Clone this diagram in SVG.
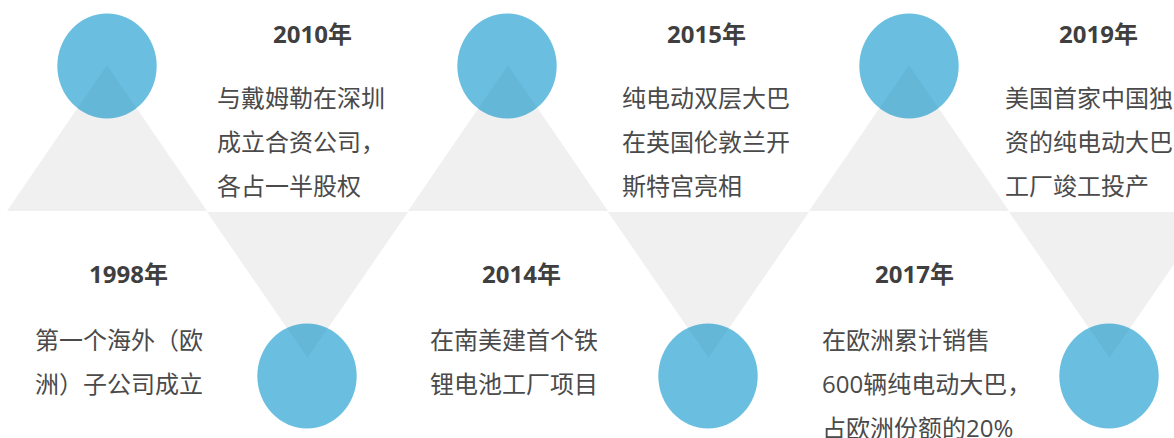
<svg xmlns="http://www.w3.org/2000/svg" width="1174" height="438" viewBox="0 0 1174 438">
  <defs>
    <style>
      .tri { fill: #f0f0f0; }
      .shade { fill: #000000; fill-opacity: 0.04; }
      .dot { fill: #6abfe1; }
      .year { font-family: "Open Sans", "Noto Sans CJK SC", sans-serif; font-weight: bold; font-size: 24px; fill: #3f3f3f; }
      .body { font-family: "Open Sans", "Noto Sans CJK SC", sans-serif; font-size: 24px; fill: #4a4a4a; }
    </style>
    <polygon id="up" points="0,0 100,146 -100,146"/>
    <polygon id="down" points="-100.5,0 100.5,0 0,146"/>
  </defs>
  <rect width="1174" height="438" fill="#ffffff"/>
  <g id="connectors">
    <use href="#up" class="tri" x="107" y="65"/>
    <use href="#up" class="tri" x="508" y="65"/>
    <use href="#up" class="tri" x="909" y="65"/>
    <use href="#down" class="tri" x="307.5" y="212"/>
    <use href="#down" class="tri" x="708.5" y="212"/>
    <use href="#down" class="tri" x="1109.5" y="212"/>
  </g>
  <g id="circles">
    <ellipse class="dot" cx="107" cy="66" rx="49.7" ry="52.5"/>
    <ellipse class="dot" cx="507" cy="66" rx="49.7" ry="52.5"/>
    <ellipse class="dot" cx="909" cy="66" rx="49.7" ry="52.5"/>
    <ellipse class="dot" cx="307" cy="376" rx="49.7" ry="52.5"/>
    <ellipse class="dot" cx="708" cy="376" rx="49.7" ry="52.5"/>
    <ellipse class="dot" cx="1109" cy="376" rx="49.7" ry="52.5"/>
  </g>
  <g id="overlap-shading">
    <clipPath id="c1"><ellipse cx="107" cy="66" rx="49.7" ry="52.5"/></clipPath>
    <clipPath id="c2"><ellipse cx="507" cy="66" rx="49.7" ry="52.5"/></clipPath>
    <clipPath id="c3"><ellipse cx="909" cy="66" rx="49.7" ry="52.5"/></clipPath>
    <clipPath id="c4"><ellipse cx="307" cy="376" rx="49.7" ry="52.5"/></clipPath>
    <clipPath id="c5"><ellipse cx="708" cy="376" rx="49.7" ry="52.5"/></clipPath>
    <clipPath id="c6"><ellipse cx="1109" cy="376" rx="49.7" ry="52.5"/></clipPath>
    <polygon class="shade" clip-path="url(#c1)" points="107,65 207,211 7,211"/>
    <polygon class="shade" clip-path="url(#c2)" points="508,65 608,211 408,211"/>
    <polygon class="shade" clip-path="url(#c3)" points="909,65 1009,211 809,211"/>
    <polygon class="shade" clip-path="url(#c4)" points="207,212 408,212 307.5,358"/>
    <polygon class="shade" clip-path="url(#c5)" points="608,212 809,212 708.5,358"/>
    <polygon class="shade" clip-path="url(#c6)" points="1009,212 1210,212 1109.5,358"/>
  </g>
  <g id="node-1998">
    <text class="year" x="89" y="283">1998年</text>
    <text class="body" x="35" y="349">第一个海外（欧</text>
    <text class="body" x="35" y="393">洲）子公司成立</text>
  </g>
  <g id="node-2010">
    <text class="year" x="273" y="43">2010年</text>
    <text class="body" x="217" y="107">与戴姆勒在深圳</text>
    <text class="body" x="217" y="151">成立合资公司，</text>
    <text class="body" x="217" y="195">各占一半股权</text>
  </g>
  <g id="node-2014">
    <text class="year" x="482" y="283">2014年</text>
    <text class="body" x="430" y="349">在南美建首个铁</text>
    <text class="body" x="430" y="393">锂电池工厂项目</text>
  </g>
  <g id="node-2015">
    <text class="year" x="667" y="43">2015年</text>
    <text class="body" x="622" y="107">纯电动双层大巴</text>
    <text class="body" x="622" y="151">在英国伦敦兰开</text>
    <text class="body" x="622" y="195">斯特宫亮相</text>
  </g>
  <g id="node-2017">
    <text class="year" x="875" y="283">2017年</text>
    <text class="body" x="822" y="349">在欧洲累计销售</text>
    <text class="body" x="822" y="393">600辆纯电动大巴，</text>
    <text class="body" x="822" y="437">占欧洲份额的20%</text>
  </g>
  <g id="node-2019">
    <text class="year" x="1059" y="43">2019年</text>
    <text class="body" x="1005" y="107">美国首家中国独</text>
    <text class="body" x="1005" y="151">资的纯电动大巴</text>
    <text class="body" x="1005" y="195">工厂竣工投产</text>
  </g>
</svg>
